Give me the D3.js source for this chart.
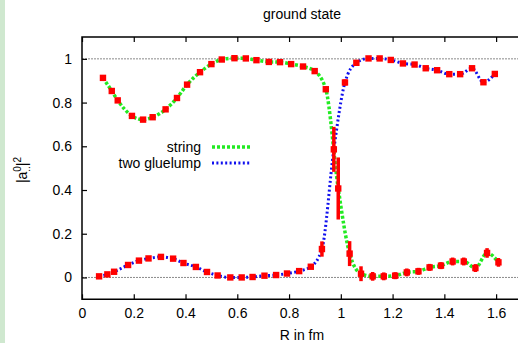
<!DOCTYPE html>
<meta charset="utf-8">
<script src="https://d3js.org/d3.v7.min.js"></script>
<style>
  body { margin: 0; background: #fff; }
  text { font-family: "Liberation Sans", Arial, sans-serif; }
</style>
<body>
<div id="chart"></div>
<script>
    // data: R in fm, |a|^2 and error bar half size
    const rString = [0.081, 0.115, 0.138, 0.193, 0.236, 0.273, 0.323, 0.367, 0.406, 0.456, 0.500,
                     0.540, 0.589, 0.633, 0.674, 0.722, 0.765, 0.808, 0.854, 0.899, 0.942, 0.990,
                     1.034, 1.078, 1.123, 1.166, 1.210, 1.255, 1.300, 1.343, 1.387, 1.432, 1.475,
                     1.520, 1.565, 1.609];
    const vString = [0.913, 0.853, 0.810, 0.739, 0.722, 0.733, 0.769, 0.821, 0.882, 0.939, 0.976,
                     0.997, 1.003, 1.002, 0.994, 0.986, 0.985, 0.976, 0.965, 0.944, 0.861, 0.407,
                     0.109, 0.017, 0.005, 0.005, 0.008, 0.023, 0.028, 0.046, 0.054, 0.073, 0.073,
                     0.043, 0.112, 0.069];
    const eString = [0.004, 0.004, 0.004, 0.004, 0.004, 0.004, 0.004, 0.004, 0.004, 0.004, 0.004,
                     0.004, 0.004, 0.004, 0.004, 0.004, 0.004, 0.004, 0.004, 0.006, 0.010, 0.142,
                     0.057, 0.034, 0.020, 0.018, 0.016, 0.018, 0.016, 0.016, 0.016, 0.018, 0.018,
                     0.018, 0.022, 0.020];

    const rGlue = [0.066, 0.098, 0.124, 0.178, 0.220, 0.257, 0.305, 0.352, 0.392, 0.440, 0.483,
                   0.524, 0.573, 0.617, 0.659, 0.705, 0.750, 0.792, 0.839, 0.884, 0.927, 0.973,
                   1.016, 1.060, 1.107, 1.150, 1.193, 1.240, 1.285, 1.328, 1.372, 1.419, 1.461,
                   1.507, 1.551, 1.595];
    const vGlue = [0.005, 0.014, 0.026, 0.057, 0.077, 0.087, 0.094, 0.086, 0.066, 0.048, 0.025,
                   0.009, 0.000, 0.000, 0.002, 0.008, 0.011, 0.018, 0.029, 0.049, 0.130, 0.586,
                   0.892, 0.982, 1.002, 1.002, 0.995, 0.979, 0.974, 0.957, 0.948, 0.930, 0.930,
                   0.957, 0.893, 0.931];
    const eGlue = [0.004, 0.004, 0.004, 0.004, 0.004, 0.004, 0.004, 0.004, 0.004, 0.004, 0.004,
                   0.004, 0.004, 0.004, 0.004, 0.004, 0.004, 0.004, 0.006, 0.008, 0.035, 0.103,
                   0.014, 0.006, 0.004, 0.004, 0.004, 0.004, 0.004, 0.004, 0.004, 0.004, 0.004,
                   0.004, 0.006, 0.006];

    const xTicks = [0, 0.2, 0.4, 0.6, 0.8, 1, 1.2, 1.4, 1.6];
    const yTicks = [0, 0.2, 0.4, 0.6, 0.8, 1];
    const seriesNames = ["string", "two gluelump"];

    const W = 518, H = 343;
    const pLeft = 82, pTop = 37, pRight = 522, pBottom = 299.3;

    const svg = d3.select("#chart").append("svg")
        .attr("width", W).attr("height", H);

    // light green strip at the left edge
    svg.append("rect").attr("x", 0).attr("y", 0).attr("width", 5).attr("height", H)
        .attr("fill", "#cfe8cf");

    const x = d3.scaleLinear().domain([0, 1.7]).range([pLeft, pRight]);
    const y = d3.scaleLinear().domain([-0.1, 1.1]).range([pBottom, pTop]);

    // dotted reference lines at 0 and 1
    svg.selectAll(".ref").data([0, 1]).join("line")
        .attr("x1", pLeft).attr("x2", W)
        .attr("y1", d => y(d)).attr("y2", d => y(d))
        .attr("stroke", "#8a8a8a").attr("stroke-width", 1)
        .attr("stroke-dasharray", "2,1");

    // axes, ticks pointing inward
    const fmt = d => String(+d.toFixed(1));
    svg.append("g")
        .attr("transform", `translate(0,${pBottom})`)
        .call(d3.axisBottom(x).tickValues(xTicks).tickSize(-5).tickPadding(9).tickFormat(fmt))
        .call(g => g.select(".domain").remove());
    svg.append("g")
        .attr("transform", `translate(0,${pTop})`)
        .call(d3.axisTop(x).tickValues(xTicks).tickSize(-5).tickFormat(""))
        .call(g => g.select(".domain").remove());
    svg.append("g")
        .attr("transform", `translate(${pLeft},0)`)
        .call(d3.axisLeft(y).tickValues(yTicks).tickSize(-5).tickPadding(10).tickFormat(fmt))
        .call(g => g.select(".domain").remove());
    svg.selectAll(".tick text").attr("font-size", 14).attr("fill", "#000")
        .attr("font-family", "'Liberation Sans', Arial, sans-serif");
    svg.selectAll(".tick line").attr("stroke", "#000").attr("stroke-width", 1.2);

    // frame
    svg.append("path")
        .attr("d", `M${pRight},${pTop}H${pLeft}V${pBottom}H${pRight}`)
        .attr("fill", "none").attr("stroke", "#000").attr("stroke-width", 1.5);

    const toPts = (r, v, e) => r.map((d, i) => ({r: d, v: v[i], e: e[i]}));
    const strData = toPts(rString, vString, eString);
    const glueData = toPts(rGlue, vGlue, eGlue);

    const line = d3.line().x(d => x(d.r)).y(d => y(d.v)).curve(d3.curveMonotoneX);

    const styles = [
        {data: strData, color: "#22ea22", width: 3.5, dash: "3,2"},
        {data: glueData, color: "#1010ee", width: 3, dash: "2,2.4"}
    ];

    styles.forEach(s => {
        svg.append("path").datum(s.data)
            .attr("d", line)
            .attr("fill", "none")
            .attr("stroke", s.color)
            .attr("stroke-width", s.width)
            .attr("stroke-dasharray", s.dash);
    });

    // red points with error bars
    styles.forEach(s => {
        const g = svg.append("g");
        g.selectAll(".err").data(s.data).join("line")
            .attr("x1", d => x(d.r)).attr("x2", d => x(d.r))
            .attr("y1", d => y(d.v - d.e)).attr("y2", d => y(d.v + d.e))
            .attr("stroke", "#f00").attr("stroke-width", 3.5);
        g.selectAll("rect").data(s.data).join("rect")
            .attr("x", d => x(d.r) - 3.2).attr("y", d => y(d.v) - 3.2)
            .attr("width", 6.4).attr("height", 6.4)
            .attr("fill", "#f00");
    });

    // legend
    const leg = svg.append("g");
    styles.forEach((s, i) => {
        const yy = 152 + i * 16;
        leg.append("text").attr("x", 201).attr("y", yy)
            .attr("text-anchor", "end").attr("font-size", 14)
            .text(seriesNames[i]);
        leg.append("line").attr("x1", 212).attr("x2", 251)
            .attr("y1", yy - 5).attr("y2", yy - 5)
            .attr("stroke", s.color).attr("stroke-width", s.width)
            .attr("stroke-dasharray", s.dash);
    });

    // title and axis labels
    svg.append("text").attr("x", 302).attr("y", 19)
        .attr("text-anchor", "middle").attr("font-size", 14).text("ground state");
    svg.append("text").attr("x", 302).attr("y", 340)
        .attr("text-anchor", "middle").attr("font-size", 14).text("R in fm");

    const yl = svg.append("text")
        .attr("transform", "translate(27,170) rotate(-90)")
        .attr("text-anchor", "middle").attr("font-size", 14);
    yl.append("tspan").text("|a");
    yl.append("tspan").attr("font-size", 10).attr("dy", -6).text("0");
    yl.append("tspan").attr("font-size", 10).attr("dx", -5.6).attr("dy", 9).text("..");
    yl.append("tspan").attr("dy", -3).text("|");
    yl.append("tspan").attr("font-size", 10).attr("dy", -6).text("2");
</script>
</body>
